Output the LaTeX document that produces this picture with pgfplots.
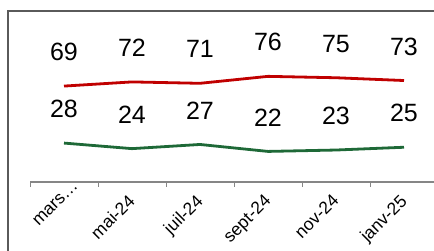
\documentclass[border=0pt]{standalone}
\usepackage{fontspec}
\setmainfont{Liberation Sans}
\usepackage{pgfplots}
\pgfplotsset{compat=1.18}
\definecolor{redline}{RGB}{192,0,0}
\definecolor{greenline}{RGB}{30,105,55}
\definecolor{framegray}{RGB}{90,90,90}
\definecolor{axgray}{RGB}{134,134,134}
\begin{document}
\begin{tikzpicture}[x=1pt,y=1pt]
\path[use as bounding box, clip] (0,0) rectangle (434,251);
\draw[framegray, line width=1.6pt] (8,-20) -- (8,240) -- (460,240);
\begin{axis}[
  at={(30pt,69pt)}, anchor=south west, scale only axis,
  width=408pt, height=139pt,
  xmin=-0.5, xmax=5.5, ymin=0, ymax=100,
  axis x line*=bottom, axis y line=none,
  xtick={0,...,5},
  xticklabels={\makebox[38pt][l]{mars…}, mai-24, juil-24, sept-24, nov-24, janv-25},
  major tick length=0pt,
  minor xtick={-0.5,0.5,...,5.5},
  minor tick length=5pt, tick align=outside,
  every tick/.style={axgray, line width=1pt},
  x axis line style={axgray, line width=1.2pt},
  x tick label style={xshift=-5pt, yshift=-11pt, rotate=45, anchor=north east, font=\fontsize{17.5}{17.5}\selectfont, inner sep=0pt},
  clip=false,
  point meta=explicit symbolic,
  nodes near coords,
  every node near coord/.append style={anchor=center, yshift=34pt, font=\fontsize{25}{25}\selectfont, text=black},
]
\addplot[redline, line width=2.8pt, mark=none] coordinates {
  (0,69) [69] (1,72) [72] (2,71) [71] (3,76) [76] (4,75) [75] (5,73) [73]
};
\addplot[greenline, line width=2.8pt, mark=none] coordinates {
  (0,28) [28] (1,24) [24] (2,27) [27] (3,22) [22] (4,23) [23] (5,25) [25]
};
\end{axis}
\end{tikzpicture}
\end{document}
